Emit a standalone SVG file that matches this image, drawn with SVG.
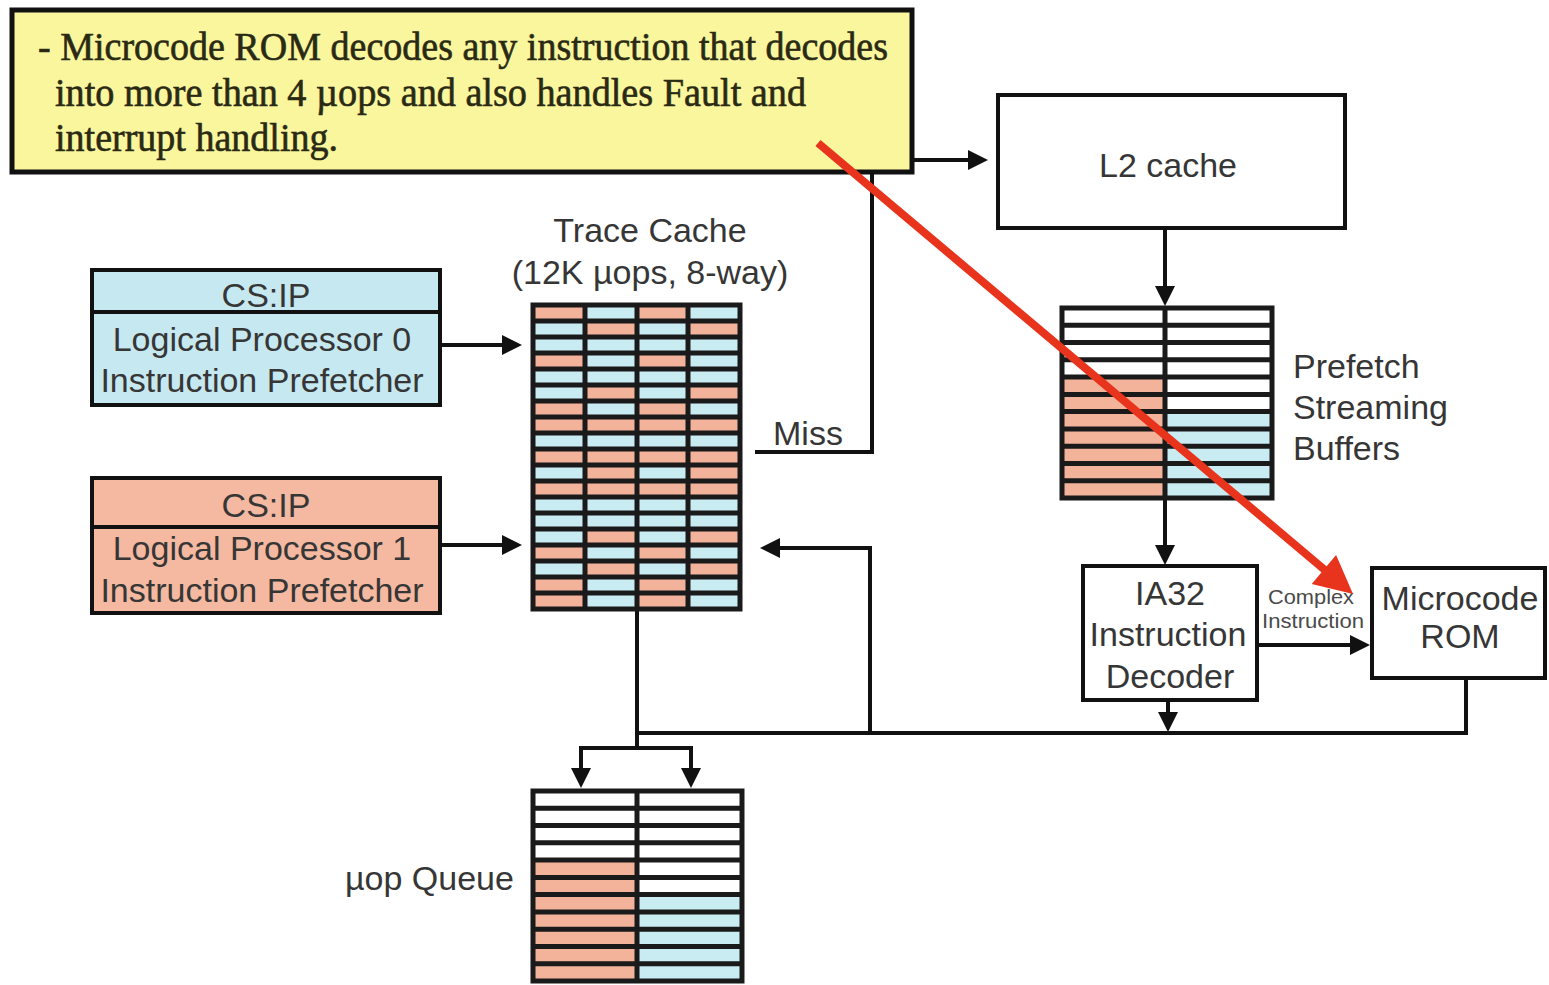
<svg xmlns="http://www.w3.org/2000/svg" width="1549" height="985" viewBox="0 0 1549 985">
  <style>
    .box { fill: #ffffff; stroke: #111111; stroke-width: 4; }
    .line { fill: none; stroke: #111111; stroke-width: 4; }
    .grid { fill: none; stroke: #1a1a1a; stroke-width: 5; }
    .or { fill: #f3b39b; }
    .bl { fill: #c9ecf3; }
    .lbl { font-family: "Liberation Sans", Arial, sans-serif; font-size: 34px; fill: #363636; }
    .mid { text-anchor: middle; }
    .small { font-family: "Liberation Sans", Arial, sans-serif; font-size: 21px; fill: #4a4a4a; text-anchor: middle; }
    .note { font-family: "Liberation Serif", "Times New Roman", serif; font-size: 39px; fill: #2a2a14; stroke: #2a2a14; stroke-width: 0.6; }
    .arr { fill: none; stroke: #111111; stroke-width: 4; marker-end: url(#head); }
  </style>
  <defs>
    <marker id="head" viewBox="0 0 10 10" refX="8" refY="5" markerWidth="20" markerHeight="20" markerUnits="userSpaceOnUse" orient="auto">
      <path d="M0,0 L10,5 L0,10 z" fill="#111111"/>
    </marker>
  </defs>

  <rect width="1549" height="985" fill="#ffffff"/>

  <!-- connectors -->
  <g id="connectors">
    <!-- trace cache miss path up to L2 -->
    <path class="arr" d="M755,452 H872 V160 H984"/>
    <!-- logical processors into trace cache -->
    <path class="arr" d="M440,345 H518"/>
    <path class="arr" d="M440,545 H518"/>
    <!-- L2 to prefetch buffers -->
    <path class="arr" d="M1165,228 V302"/>
    <!-- prefetch buffers to decoder -->
    <path class="arr" d="M1165,498 V561"/>
    <!-- decoder to microcode ROM -->
    <path class="arr" d="M1257,645 H1366"/>
    <!-- decoder onto the bus -->
    <path class="arr" d="M1168,700 V728"/>
    <!-- microcode ROM onto the bus, bus back to trace cache fill -->
    <path class="line" d="M1466,678 V733 H637"/>
    <path class="arr" d="M870,733 V548 H764"/>
    <!-- trace cache output to uop queue -->
    <path class="line" d="M637,609 V748"/>
    <path class="arr" d="M637,748 H581 V784"/>
    <path class="arr" d="M637,748 H691 V784"/>
  </g>

  <!-- L2 cache -->
  <g id="l2-cache">
    <rect class="box" x="998" y="95" width="347" height="133"/>
    <text class="lbl mid" x="1168" y="177">L2 cache</text>
  </g>

  <!-- logical processor 0 -->
  <g id="lp0">
    <rect x="92" y="270" width="348" height="135" fill="#c6e8f0" stroke="#111111" stroke-width="4"/>
    <line class="line" x1="92" y1="312" x2="440" y2="312"/>
    <text class="lbl mid" x="266" y="307">CS:IP</text>
    <text class="lbl mid" x="262" y="351">Logical Processor 0</text>
    <text class="lbl mid" x="262" y="392">Instruction Prefetcher</text>
  </g>

  <!-- logical processor 1 -->
  <g id="lp1">
    <rect x="92" y="478" width="348" height="135" fill="#f4b9a0" stroke="#111111" stroke-width="4"/>
    <line class="line" x1="92" y1="527" x2="440" y2="527"/>
    <text class="lbl mid" x="266" y="517">CS:IP</text>
    <text class="lbl mid" x="262" y="560">Logical Processor 1</text>
    <text class="lbl mid" x="262" y="602">Instruction Prefetcher</text>
  </g>

  <!-- trace cache: 19 rows x 4 ways -->
  <g id="trace-cache">
    <text class="lbl mid" x="650" y="242">Trace Cache</text>
    <text class="lbl mid" x="650" y="284">(12K µops, 8-way)</text>
    <g id="tc-cells">
      <!-- row 1 OBOB -->
      <rect class="or" x="533" y="305" width="207" height="16"/><rect class="bl" x="585" y="305" width="52" height="16"/><rect class="bl" x="688" y="305" width="52" height="16"/>
      <!-- row 2 BOBO -->
      <rect class="bl" x="533" y="321" width="207" height="16"/><rect class="or" x="585" y="321" width="52" height="16"/><rect class="or" x="688" y="321" width="52" height="16"/>
      <!-- row 3 BBBB -->
      <rect class="bl" x="533" y="337" width="207" height="16"/>
      <!-- row 4 OBOB -->
      <rect class="or" x="533" y="353" width="207" height="16"/><rect class="bl" x="585" y="353" width="52" height="16"/><rect class="bl" x="688" y="353" width="52" height="16"/>
      <!-- row 5 BBBB -->
      <rect class="bl" x="533" y="369" width="207" height="16"/>
      <!-- row 6 BOBO -->
      <rect class="bl" x="533" y="385" width="207" height="16"/><rect class="or" x="585" y="385" width="52" height="16"/><rect class="or" x="688" y="385" width="52" height="16"/>
      <!-- row 7 OBOB -->
      <rect class="or" x="533" y="401" width="207" height="16"/><rect class="bl" x="585" y="401" width="52" height="16"/><rect class="bl" x="688" y="401" width="52" height="16"/>
      <!-- row 8 OOOO -->
      <rect class="or" x="533" y="417" width="207" height="16"/>
      <!-- row 9 BBBB -->
      <rect class="bl" x="533" y="433" width="207" height="16"/>
      <!-- row 10 OOOO -->
      <rect class="or" x="533" y="449" width="207" height="16"/>
      <!-- row 11 BOBO -->
      <rect class="bl" x="533" y="465" width="207" height="16"/><rect class="or" x="585" y="465" width="52" height="16"/><rect class="or" x="688" y="465" width="52" height="16"/>
      <!-- row 12 OOOO -->
      <rect class="or" x="533" y="481" width="207" height="16"/>
      <!-- rows 13-14 BBBB -->
      <rect class="bl" x="533" y="497" width="207" height="32"/>
      <!-- row 15 BOBO -->
      <rect class="bl" x="533" y="529" width="207" height="16"/><rect class="or" x="585" y="529" width="52" height="16"/><rect class="or" x="688" y="529" width="52" height="16"/>
      <!-- row 16 OBOB -->
      <rect class="or" x="533" y="545" width="207" height="16"/><rect class="bl" x="585" y="545" width="52" height="16"/><rect class="bl" x="688" y="545" width="52" height="16"/>
      <!-- row 17 BOBO -->
      <rect class="bl" x="533" y="561" width="207" height="16"/><rect class="or" x="585" y="561" width="52" height="16"/><rect class="or" x="688" y="561" width="52" height="16"/>
      <!-- rows 18-19 OBOB -->
      <rect class="or" x="533" y="577" width="207" height="32"/><rect class="bl" x="585" y="577" width="52" height="32"/><rect class="bl" x="688" y="577" width="52" height="32"/>
    </g>
    <path class="grid" d="M533,321 H740 M533,337 H740 M533,353 H740 M533,369 H740 M533,385 H740 M533,401 H740 M533,417 H740 M533,433 H740 M533,449 H740 M533,465 H740 M533,481 H740 M533,497 H740 M533,513 H740 M533,529 H740 M533,545 H740 M533,561 H740 M533,577 H740 M533,593 H740 M585,305 V609 M637,305 V609 M688,305 V609"/>
    <rect class="grid" x="533" y="305" width="207" height="304"/>
    <text class="lbl" x="773" y="445">Miss</text>
  </g>

  <!-- prefetch streaming buffers -->
  <g id="prefetch-buffers">
    <rect x="1062" y="308" width="210" height="190" fill="#ffffff"/>
    <rect class="or" x="1062" y="377" width="103" height="121"/>
    <rect class="bl" x="1165" y="412" width="107" height="86"/>
    <path class="grid" d="M1062,325.3 H1272 M1062,342.5 H1272 M1062,359.8 H1272 M1062,377.1 H1272 M1062,394.4 H1272 M1062,411.6 H1272 M1062,428.9 H1272 M1062,446.2 H1272 M1062,463.5 H1272 M1062,480.7 H1272 M1165,308 V498"/>
    <rect class="grid" x="1062" y="308" width="210" height="190"/>
    <text class="lbl" x="1293" y="378">Prefetch</text>
    <text class="lbl" x="1293" y="419">Streaming</text>
    <text class="lbl" x="1293" y="460">Buffers</text>
  </g>

  <!-- IA32 instruction decoder -->
  <g id="ia32-decoder">
    <rect class="box" x="1083" y="566" width="174" height="134"/>
    <text class="lbl mid" x="1170" y="605">IA32</text>
    <text class="lbl mid" x="1168" y="646">Instruction</text>
    <text class="lbl mid" x="1170" y="688">Decoder</text>
  </g>
  <text class="small" x="1311" y="604" textLength="86" lengthAdjust="spacingAndGlyphs">Complex</text>
  <text class="small" x="1313" y="628" textLength="102" lengthAdjust="spacingAndGlyphs">Instruction</text>

  <!-- microcode ROM -->
  <g id="microcode-rom">
    <rect class="box" x="1372" y="568" width="173" height="110"/>
    <text class="lbl mid" x="1460" y="610">Microcode</text>
    <text class="lbl mid" x="1460" y="648">ROM</text>
  </g>

  <!-- uop queue -->
  <g id="uop-queue">
    <rect x="533" y="791" width="209" height="190" fill="#ffffff"/>
    <rect class="or" x="533" y="860" width="104" height="121"/>
    <rect class="bl" x="637" y="895" width="105" height="86"/>
    <path class="grid" d="M533,808.3 H742 M533,825.5 H742 M533,842.8 H742 M533,860.1 H742 M533,877.4 H742 M533,894.6 H742 M533,911.9 H742 M533,929.2 H742 M533,946.5 H742 M533,963.7 H742 M637,791 V981"/>
    <rect class="grid" x="533" y="791" width="209" height="190"/>
    <text class="lbl" x="345" y="890">µop Queue</text>
  </g>

  <!-- callout note -->
  <g id="note">
    <rect x="12" y="10" width="900" height="162" fill="#faf69e" stroke="#111111" stroke-width="5"/>
    <text class="note" x="38" y="60" textLength="850" lengthAdjust="spacingAndGlyphs">- Microcode ROM decodes any instruction that decodes</text>
    <text class="note" x="55" y="106" textLength="751" lengthAdjust="spacingAndGlyphs">into more than 4 µops and also handles Fault and</text>
    <text class="note" x="55" y="151" textLength="283" lengthAdjust="spacingAndGlyphs">interrupt handling.</text>
  </g>

  <!-- pointer from note to microcode ROM -->
  <g id="pointer">
    <line x1="818" y1="143" x2="1326" y2="571" stroke="#e8341c" stroke-width="8"/>
    <polygon points="1353,594 1311.7,584 1336.1,555" fill="#e8341c"/>
  </g>
</svg>
